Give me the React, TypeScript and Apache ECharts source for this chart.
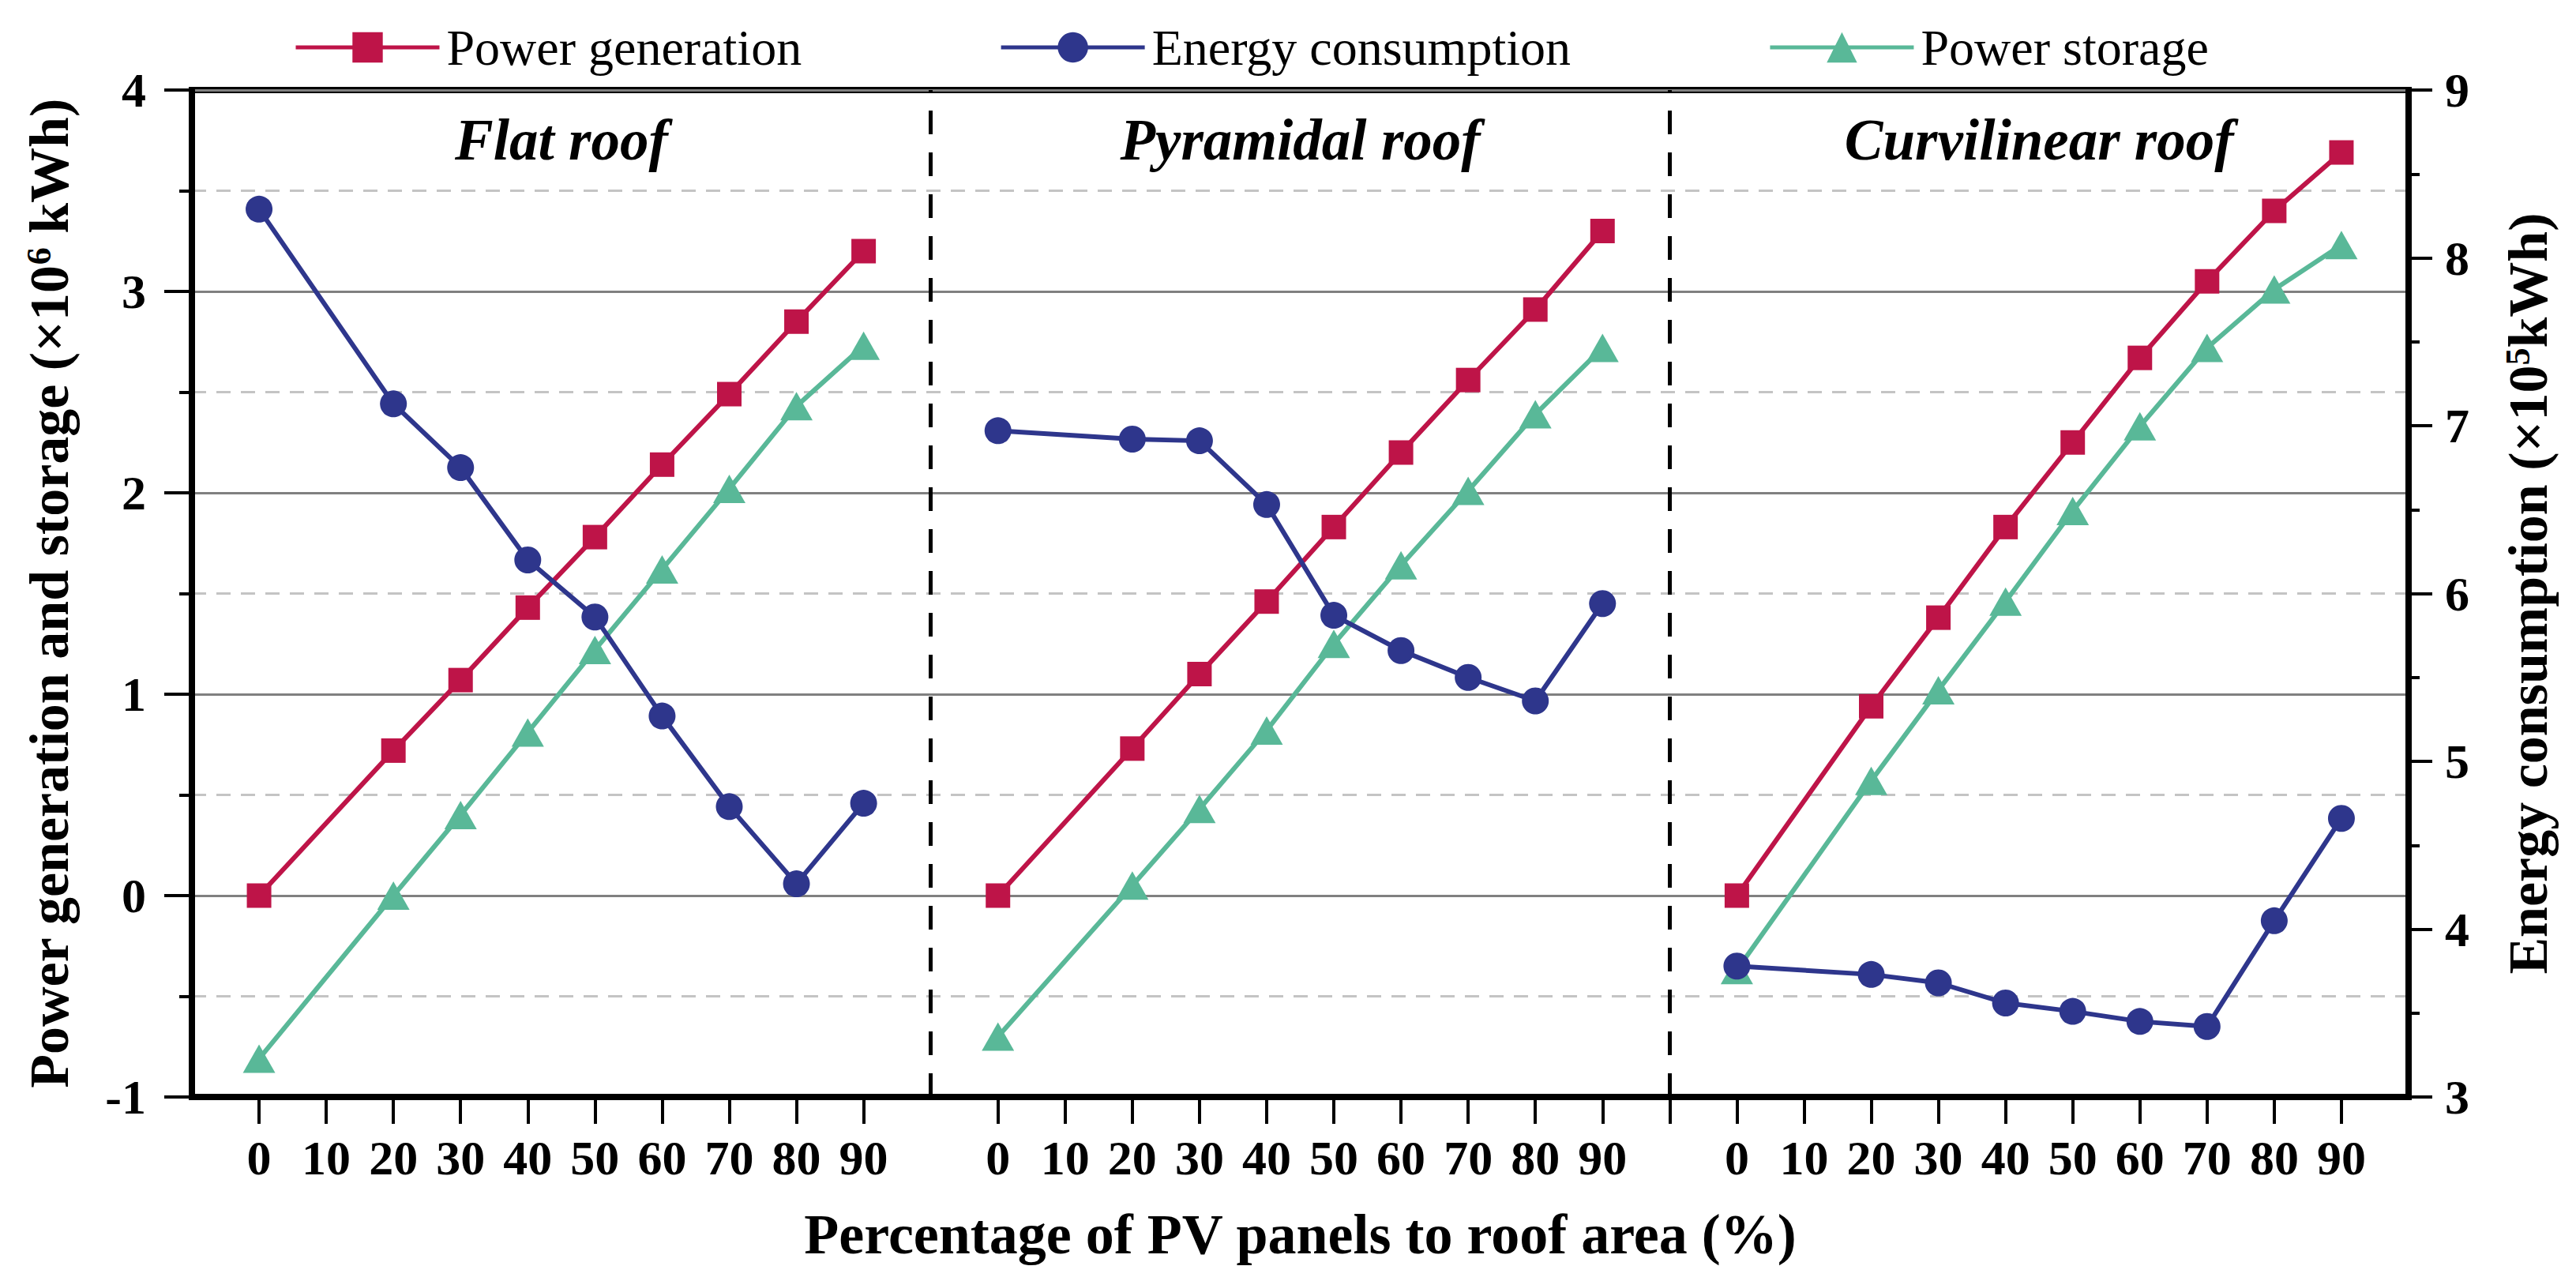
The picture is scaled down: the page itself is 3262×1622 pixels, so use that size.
import React, { useEffect, useRef } from 'react';
import * as echarts from 'echarts';

// ---------- data ----------
const PCTS = [0, 20, 30, 40, 50, 60, 70, 80, 90];
const TICK_TEXT = ['0', '10', '20', '30', '40', '50', '60', '70', '80', '90'];
const ROOFS = ['Flat roof', 'Pyramidal roof', 'Curvilinear roof'];
const LEGEND_NAMES = ['Power generation', 'Energy consumption', 'Power storage'];

// Power generation (x10^6 kWh)
const GEN_FLAT = [0.0, 0.72, 1.07, 1.43, 1.78, 2.14, 2.49, 2.85, 3.2];
const GEN_PYR = [0.0, 0.73, 1.1, 1.46, 1.83, 2.2, 2.56, 2.91, 3.3];
const GEN_CURV = [0.0, 0.94, 1.38, 1.83, 2.25, 2.67, 3.05, 3.4, 3.69];
// Power storage (x10^6 kWh)
const STO_FLAT = [-0.81, 0.0, 0.4, 0.81, 1.22, 1.62, 2.02, 2.43, 2.73];
const STO_PYR = [-0.7, 0.05, 0.43, 0.82, 1.25, 1.64, 2.01, 2.39, 2.72];
const STO_CURV = [-0.37, 0.57, 1.02, 1.46, 1.91, 2.33, 2.72, 3.01, 3.23];
// Energy consumption (x10^5 kWh)
const CON_FLAT = [8.29, 7.13, 6.75, 6.2, 5.86, 5.27, 4.73, 4.27, 4.75];
const CON_PYR = [6.97, 6.92, 6.91, 6.53, 5.87, 5.66, 5.5, 5.36, 5.94];
const CON_CURV = [3.78, 3.73, 3.68, 3.56, 3.51, 3.45, 3.42, 4.05, 4.66];

// ---------- styling ----------
const FONT = "'Liberation Serif', 'Times New Roman', serif";
const RED = '#BE1448';
const BLUE = '#2E368C';
const GREEN = '#59B898';

const SLOTS = 11; // 1 gap + 10 tick slots per panel
const LAST = SLOTS * 3; // 33
const categories: string[] = [];
for (let i = 0; i <= LAST; i++) {
  const r = i % SLOTS;
  categories.push(r >= 1 && r <= 10 && i < LAST ? TICK_TEXT[r - 1] : '');
}
const xIndex = (panel: number, pct: number) => panel * SLOTS + 1 + pct / 10;

const PANELS = [
  { gen: GEN_FLAT, sto: STO_FLAT, con: CON_FLAT },
  { gen: GEN_PYR, sto: STO_PYR, con: CON_PYR },
  { gen: GEN_CURV, sto: STO_CURV, con: CON_CURV },
];

function buildSeries() {
  const out: any[] = [];
  PANELS.forEach((p, pi) => {
    const mk = (vals: number[]) => vals.map((v, i) => [xIndex(pi, PCTS[i]), v]);
    out.push({
      name: LEGEND_NAMES[0],
      type: 'line',
      yAxisIndex: 0,
      data: mk(p.gen),
      symbol: 'rect',
      symbolSize: 31,
      lineStyle: { color: RED, width: 6 },
      itemStyle: { color: RED },
      z: 3,
      ...(pi === 0
        ? {
            markLine: {
              silent: true,
              symbol: 'none',
              label: { show: false },
              lineStyle: { color: '#000', width: 5, type: [30, 23] },
              data: [{ xAxis: SLOTS }, { xAxis: SLOTS * 2 }],
            },
          }
        : {}),
    });
    out.push({
      name: LEGEND_NAMES[2],
      type: 'line',
      yAxisIndex: 0,
      data: mk(p.sto),
      symbol: 'triangle',
      symbolSize: [41, 36],
      lineStyle: { color: GREEN, width: 6 },
      itemStyle: { color: GREEN },
      z: 4,
    });
    out.push({
      name: LEGEND_NAMES[1],
      type: 'line',
      yAxisIndex: 1,
      data: mk(p.con),
      symbol: 'circle',
      symbolSize: 34,
      lineStyle: { color: BLUE, width: 6 },
      itemStyle: { color: BLUE },
      z: 5,
    });
  });
  return out;
}

const labelStyle = { fontFamily: FONT, fontWeight: 'bold', fontSize: 62, color: '#000' };

function buildOption(): any {
  return {
    animation: false,
    backgroundColor: '#fff',
    grid: {
      left: 243,
      right: 212,
      top: 114,
      bottom: 233,
      show: true,
      borderColor: '#000',
      borderWidth: 8,
      backgroundColor: 'transparent',
    },
    legend: {
      data: LEGEND_NAMES,
      left: 372,
      top: 28,
      padding: 0,
      itemWidth: 182,
      itemHeight: 48,
      itemGap: 250,
      textStyle: { fontFamily: FONT, fontSize: 64, color: '#000', padding: [0, 0, 0, 4] },
      lineStyle: { width: 5 },
    },
    xAxis: {
      type: 'category',
      data: categories,
      boundaryGap: false,
      name: 'Percentage of PV panels to roof area (%)',
      nameLocation: 'middle',
      nameGap: 138,
      nameTextStyle: { fontFamily: FONT, fontWeight: 'bold', fontSize: 72, color: '#000' },
      axisLine: { show: true, onZero: false, lineStyle: { color: '#000', width: 8 } },
      axisTick: {
        show: true,
        inside: false,
        length: 34,
        interval: (idx: number) => idx % SLOTS !== 0 || idx === SLOTS * 2,
        lineStyle: { color: '#000', width: 4 },
      },
      axisLabel: { ...labelStyle, interval: 0, margin: 46 },
      splitLine: { show: false },
    },
    yAxis: [
      {
        type: 'value',
        position: 'left',
        min: -1,
        max: 4,
        interval: 1,
        name: 'Power generation and storage (×10{sup|6} kWh)',
        nameLocation: 'middle',
        nameRotate: 90,
        nameGap: 146,
        nameTextStyle: {
          fontFamily: FONT,
          fontWeight: 'bold',
          fontSize: 70,
          color: '#000',
          rich: {
            sup: { fontFamily: FONT, fontWeight: 'bold', fontSize: 44, color: '#000', verticalAlign: 'top' },
          },
        },
        axisLine: { show: true, lineStyle: { color: '#000', width: 8 } },
        axisTick: { show: true, inside: false, length: 35, lineStyle: { color: '#000', width: 4 } },
        minorTick: { show: true, splitNumber: 2, length: 16, lineStyle: { color: '#000', width: 4 } },
        axisLabel: { ...labelStyle, margin: 58 },
        splitLine: { show: true, lineStyle: { color: '#808080', width: 3, type: 'solid' } },
        minorSplitLine: { show: true, lineStyle: { color: '#C4C4C4', width: 3, type: [18, 13] } },
      },
      {
        type: 'value',
        position: 'right',
        min: 3,
        max: 9,
        interval: 1,
        name: 'Energy consumption (×10{sup|5}kWh)',
        nameLocation: 'middle',
        nameRotate: 90,
        nameGap: 116,
        nameTextStyle: {
          fontFamily: FONT,
          fontWeight: 'bold',
          fontSize: 70,
          color: '#000',
          rich: {
            sup: { fontFamily: FONT, fontWeight: 'bold', fontSize: 44, color: '#000', verticalAlign: 'top' },
          },
        },
        axisLine: { show: true, lineStyle: { color: '#000', width: 8 } },
        axisTick: { show: true, inside: false, length: 30, lineStyle: { color: '#000', width: 4 } },
        minorTick: { show: true, splitNumber: 2, length: 14, lineStyle: { color: '#000', width: 4 } },
        axisLabel: { ...labelStyle, margin: 46 },
        splitLine: { show: false },
        minorSplitLine: { show: false },
      },
    ],
    series: buildSeries(),
  };
}

export default function App() {
  const ref = useRef<HTMLDivElement>(null);
  useEffect(() => {
    if (!ref.current) return;
    const chart = echarts.init(ref.current, null, { renderer: 'svg' });
    chart.setOption(buildOption());
    const yPix = chart.convertToPixel({ yAxisIndex: 0 }, 3.75) as number;
    const graphics = ROOFS.map((name, p) => {
      const x0 = chart.convertToPixel({ xAxisIndex: 0 }, p * SLOTS) as number;
      const x1 = chart.convertToPixel({ xAxisIndex: 0 }, (p + 1) * SLOTS) as number;
      return {
        type: 'text',
        x: (x0 + x1) / 2,
        y: yPix,
        z: 10,
        style: {
          text: name,
          fontFamily: FONT,
          fontWeight: 'bold',
          fontStyle: 'italic',
          fontSize: 73,
          fill: '#000',
          align: 'center',
          verticalAlign: 'middle',
        },
      };
    });
    chart.setOption({ graphic: graphics });
    return () => chart.dispose();
  }, []);
  return (
    <div
      ref={ref}
      style={{ position: 'fixed', left: 0, top: 0, width: '3262px', height: '1622px', background: '#fff' }}
    />
  );
}
